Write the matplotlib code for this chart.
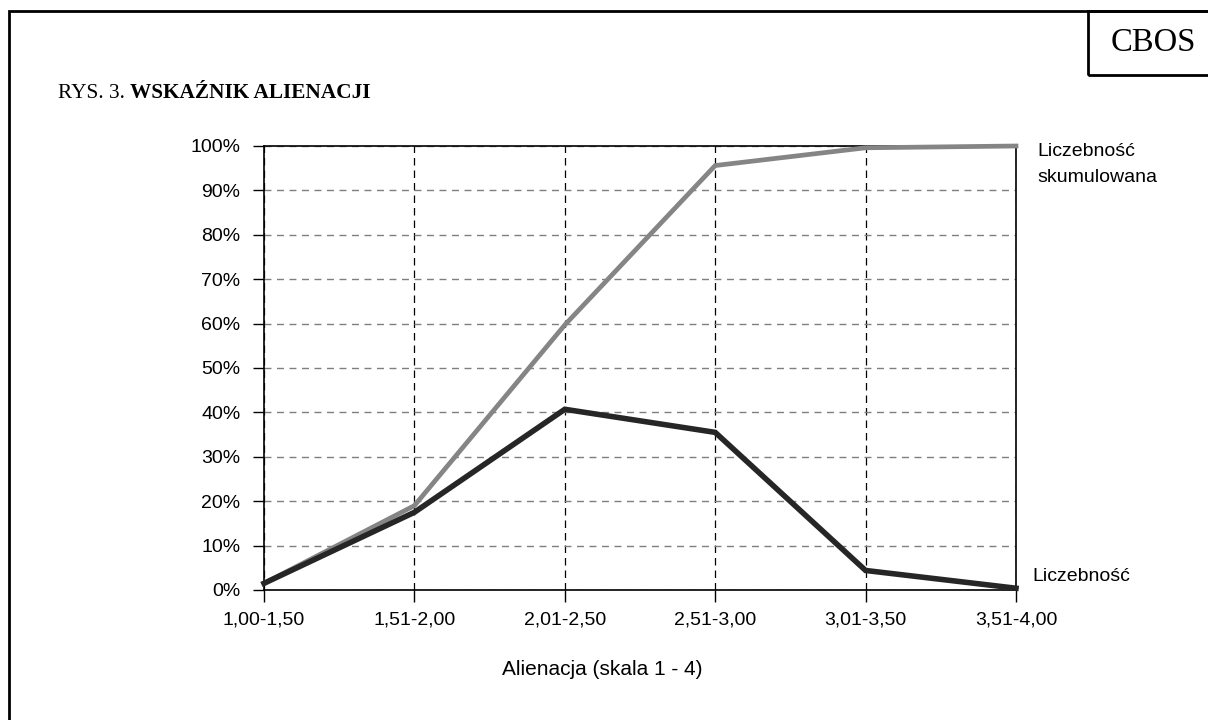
import matplotlib
matplotlib.use("Agg")
import matplotlib.pyplot as plt
from matplotlib.patches import Rectangle
from matplotlib.ticker import PercentFormatter

# dane z rysunku
categories = ["1,00-1,50", "1,51-2,00", "2,01-2,50", "2,51-3,00", "3,01-3,50", "3,51-4,00"]
liczebnosc = [1.5, 17.5, 40.7, 35.5, 4.4, 0.4]
skumulowana = [1.5, 19.0, 59.7, 95.6, 99.6, 100.0]
y_ticks = [0, 10, 20, 30, 40, 50, 60, 70, 80, 90, 100]

sans = ["Liberation Sans", "DejaVu Sans"]
serif = ["Liberation Serif", "DejaVu Serif"]
fs = 14

fig = plt.figure(figsize=(12.08, 7.2), dpi=100)
ax = fig.add_axes([264 / 1208, 1 - 590 / 720, (1016 - 264) / 1208, (590 - 146) / 720])

x = list(range(len(categories)))
ax.plot(x, skumulowana, color="#858585", lw=3.4, zorder=4, clip_on=False,
        solid_joinstyle="miter")
ax.plot(x, liczebnosc, color="#262626", lw=4.0, zorder=5, clip_on=False,
        solid_joinstyle="miter")

ax.set_xlim(0, len(categories) - 1)
ax.set_ylim(0, 100)
ax.set_xticks(x)
ax.set_xticklabels(categories, fontfamily=sans, fontsize=fs)
ax.set_yticks(y_ticks)
ax.yaxis.set_major_formatter(PercentFormatter(decimals=0))
for lab in ax.get_yticklabels():
    lab.set_fontfamily(sans)
    lab.set_fontsize(fs)
ax.tick_params(axis="y", direction="out", length=8, width=1, pad=9)
ax.tick_params(axis="x", direction="out", length=8.5, width=1, pad=7)

# siatka: poziome szare, pionowe czarne
ax.grid(axis="y", color="#7f7f7f", linestyle=(0, (5, 4)), lw=1)
ax.grid(axis="x", color="black", linestyle=(0, (6, 4)), lw=0.9)
ax.set_axisbelow(True)
for s in ax.spines.values():
    s.set_color("black")
    s.set_linewidth(1.2)

# podpis osi X (w oryginale przesunięty w lewo od środka)
ax.text(0.4495, -0.18, "Alienacja (skala 1 - 4)", transform=ax.transAxes,
        fontfamily=sans, fontsize=15, ha="center", va="center")

# etykiety serii
ax.text(1.028, 0.9865, "Liczebność", transform=ax.transAxes,
        fontfamily=sans, fontsize=fs, va="center", ha="left")
ax.text(1.028, 0.929, "skumulowana", transform=ax.transAxes,
        fontfamily=sans, fontsize=fs, va="center", ha="left")
ax.text(1.022, 0.03, "Liczebność", transform=ax.transAxes,
        fontfamily=sans, fontsize=fs, va="center", ha="left")

# ramka i logo
fig.patches.append(Rectangle((9 / 1208, -0.05), 1.2, 1 - 11 / 720 + 0.05,
                             transform=fig.transFigure, fill=False,
                             edgecolor="black", lw=2))
fig.patches.append(Rectangle((1088 / 1208, 1 - 75 / 720), 0.2, 64 / 720,
                             transform=fig.transFigure, fill=False,
                             edgecolor="black", lw=2))
fig.text(1153 / 1208, 1 - 43 / 720, "CBOS", fontfamily=serif, fontsize=23.5,
         ha="center", va="center")

# tytuł
t1 = fig.text(58 / 1208, 1 - 93 / 720, "RYS. 3. ", fontfamily=serif,
              fontsize=15.3, va="center", ha="left")
fig.canvas.draw()
bb = t1.get_window_extent()
fig.text(bb.x1 / fig.bbox.width, 1 - 93 / 720, "WSKAŹNIK ALIENACJI",
         fontfamily=serif, fontsize=15.3, fontweight="bold", va="center", ha="left")

fig.savefig("out.png", dpi=100, facecolor="white")
